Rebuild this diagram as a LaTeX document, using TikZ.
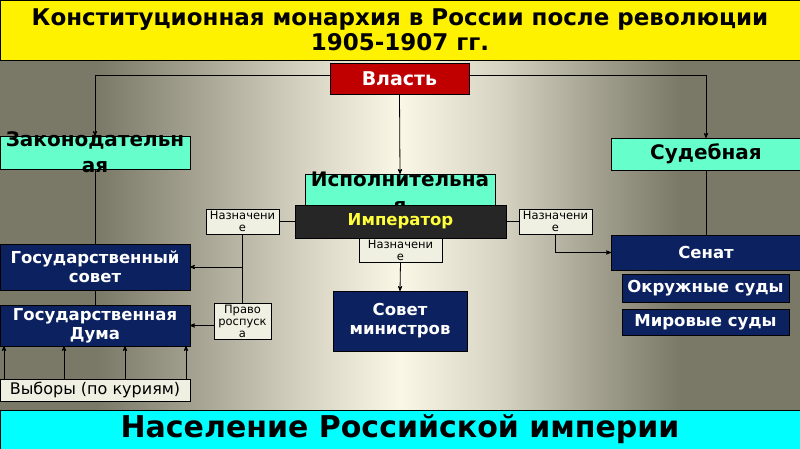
\documentclass[tikz,border=0pt]{standalone}
\usepackage{fontspec}
\setmainfont{DejaVu Sans}
\usetikzlibrary{arrows}

\definecolor{navybox}{RGB}{12,34,96}
\definecolor{aquabox}{RGB}{102,255,204}
\definecolor{redbox}{RGB}{192,0,0}
\definecolor{ivorybox}{RGB}{240,240,226}
\definecolor{empbox}{RGB}{38,38,38}
\definecolor{emptext}{RGB}{255,255,60}
\definecolor{cyanbox}{RGB}{0,255,255}
\definecolor{bgdark}{RGB}{122,120,103}
\definecolor{bglight}{RGB}{251,247,230}
% the middle 50bp of the shading cover the rectangle
\pgfdeclarehorizontalshading{slidebg}{100bp}{%
  color(0bp)=(bgdark); color(31bp)=(bgdark);
  color(36.7bp)=(bgdark!70!bglight); color(43.75bp)=(bgdark!30!bglight);
  color(50bp)=(bglight); color(56.25bp)=(bgdark!28!bglight);
  color(62.5bp)=(bgdark!70!bglight); color(67.5bp)=(bgdark);
  color(100bp)=(bgdark)}

\begin{document}
\begin{tikzpicture}[x=1pt,y=-1pt,>=stealth',
  every node/.style={inner sep=0pt,outer sep=0pt,anchor=north west},
  branch/.style={draw=black,fill=aquabox,font=\bfseries\fontsize{20}{26}\selectfont},
  organ/.style={draw=black,fill=navybox,text=white,align=center,font=\bfseries\fontsize{16.5}{19}\selectfont},
  note/.style={draw=black,fill=ivorybox,align=center,font=\fontsize{11.5}{12}\selectfont},
  link/.style={draw=black,line width=0.8pt}]
\useasboundingbox (0,0) rectangle (800,449);
\shade[shading=slidebg] (0,60) rectangle (800,410);

\node[draw=black,fill=yellow,minimum width=800,minimum height=60,align=center,
  font=\bfseries\fontsize{23}{25}\selectfont] (title) at (0,0)
  {Конституционная монархия в России после революции\\1905-1907 гг.};
\node[draw=black,fill=redbox,text=white,minimum width=139,minimum height=31,
  font=\bfseries\fontsize{19}{22}\selectfont] (power) at (330,63) {Власть};

\node[branch,minimum width=190,minimum height=33] (leg) at (0,136)
  {\raisebox{-20pt}[0pt][0pt]{\parbox[b]{190pt}{\centering Законодательн\\ая}}};
\node[branch,minimum width=190,minimum height=32] (jud) at (611,138) {Судебная};
\node[branch,minimum width=190,minimum height=32] (exec) at (305,174)
  {\raisebox{-22pt}[0pt][0pt]{\parbox[b]{190pt}{\centering Исполнительна\\я}}};
\node[draw=black,fill=empbox,text=emptext,minimum width=211,minimum height=33,
  font=\bfseries\fontsize{16.5}{19}\selectfont] (emp) at (295,205) {Император};

\node[note,minimum width=73,minimum height=25] (nazL) at (206,209) {Назначени\\е};
\node[note,minimum width=73,minimum height=25] (nazR) at (519,209) {Назначени\\е};
\node[note,minimum width=83,minimum height=24] (nazM) at (359,238) {Назначени\\е};
\node[note,minimum width=57,minimum height=36] (pravo) at (214,303) {Право\\роспуск\\а};

\node[organ,minimum width=190,minimum height=46] (gsov) at (0,244) {Государственный\\совет};
\node[organ,minimum width=190,minimum height=41] (duma) at (0,305) {Государственная\\Дума};
\node[organ,minimum width=134,minimum height=60] (sovmin) at (333,291) {Совет\\министров};
\node[organ,minimum width=190,minimum height=35] (senat) at (611,235) {Сенат};
\node[organ,minimum width=167,minimum height=28] (okr) at (622,274) {Окружные суды};
\node[organ,minimum width=167,minimum height=26] (mir) at (622,309) {Мировые суды};

\node[draw=black,fill=ivorybox,minimum width=190,minimum height=22,
  font=\fontsize{16}{18}\selectfont] (vyb) at (0,379) {Выборы (по куриям)};
\node[draw=black,fill=cyanbox,minimum width=800,minimum height=39,
  font=\bfseries\fontsize{30}{34}\selectfont] (people) at (0,410) {Население Российской империи};

\draw[link,->] ([yshift=3]power.west) -| (leg.north);
\draw[link,->] ([yshift=3]power.east) -| (jud.north);
\draw[link,->] (power.south) -- (exec.north);
\draw[link] (leg.south) -- (gsov.north);
\draw[link] (gsov.south) -- (duma.north);
\draw[link] (emp.west) -- (nazL.east);
\draw[link] (emp.east) -- (nazR.west);
\draw[link,->] (nazL.south) |- (gsov.east);
\draw[link] (nazL.south) -- (pravo.north);
\draw[link,->] (pravo.west |- duma.east) -- (duma.east);
\draw[link,->] (nazM.south) -- (sovmin.north);
\draw[link,->] (nazR.south) |- (senat.west);
\draw[link] (jud.south) -- (senat.north);
\foreach \x in {4,64,125,186}
  \draw[link,->] (vyb.north -| \x,0) -- (duma.south -| \x,0);
\end{tikzpicture}
\end{document}
